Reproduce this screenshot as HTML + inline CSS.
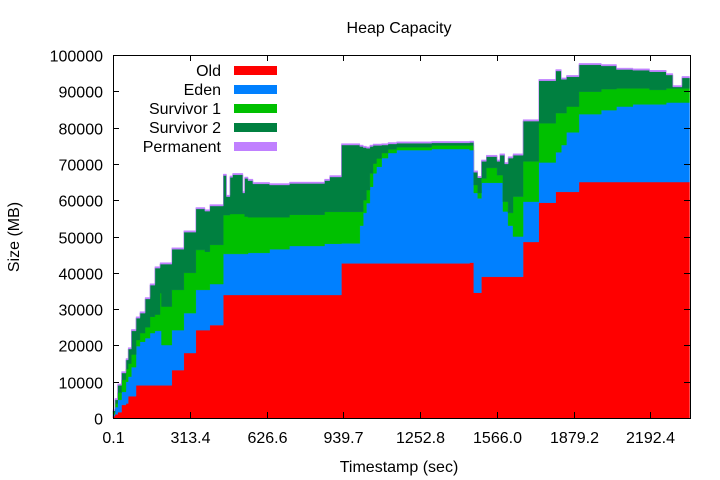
<!DOCTYPE html>
<html><head><meta charset="utf-8"><style>
body{margin:0;background:#fff;}
svg{display:block;font-family:"Liberation Sans",sans-serif;}
</style></head><body>
<svg id="chart" width="720" height="480" viewBox="0 0 720 480" xmlns="http://www.w3.org/2000/svg">
<rect width="720" height="480" fill="#fff"/>
<text x="399" y="33" font-size="16" text-anchor="middle">Heap Capacity</text>
<text x="399" y="472" font-size="16" text-anchor="middle">Timestamp (sec)</text>
<text x="19" y="237" font-size="16" text-anchor="middle" transform="rotate(-90 19 237)">Size (MB)</text>
<g id="areas"></g>
<g id="axes"></g>
<g id="legend"></g>
</svg>
<script>
const times=[0,8,19,35,53,62,75,94,110,131,151,171,192,198,240,289,338,375,395,450,463,477,488,530,537,551,571,639,720,863,884,932,1007,1021,1034,1048,1061,1075,1096,1122,1157,1300,1455,1472,1488,1503,1523,1567,1578,1591,1598,1612,1632,1673,1737,1806,1829,1850,1901,1992,2054,2121,2189,2257,2284,2321];
const tEnd=2352;
const oldV=[0.5,1,1.6,3.6,4,6,6,9,9,9,9,9,9,9,13.2,17.9,24.2,24.2,25.6,33.9,33.9,33.9,33.9,33.9,33.9,33.9,33.9,33.9,33.9,33.9,33.9,42.6,42.6,42.6,42.6,42.6,42.6,42.6,42.6,42.6,42.6,42.6,42.8,34.5,34.5,38.9,38.9,38.9,38.9,38.9,38.9,38.9,38.9,48.5,59.3,62.3,62.3,62.3,65,65,65,65,65,65,65,65];
const edenV=[0.5,2,3.4,3.6,6,5.4,8,10.8,12,13,14.4,15,15,11.1,11,11,11.1,11.1,11.3,11.3,11.3,11.3,11.3,11.3,11.3,11.6,11.6,12.6,13.5,14.1,14.1,5.5,10.4,13.9,16.6,21.1,24.8,26.6,29,30.4,31.2,31.5,31,27.5,26,25.9,25.9,25.9,25.9,18,18,14.1,11.1,11.1,11.1,10.9,12.9,16.4,18.7,19.8,20.8,21.4,21.4,21.9,21.9,21.9];
const s1V=[0.5,1,2,3.3,3.5,3.6,3.5,1.7,2.4,3,4.5,4.5,10.4,10.6,11.1,11.1,11,10.5,10.8,10.7,10.7,11,11,11,10.3,9.8,9.8,8.8,8.6,8.8,8.8,8.7,3.8,3.5,3.6,3.7,2.7,2.3,1.4,1,0.8,1,1.3,2.2,1.5,1.2,4.1,2.1,2.1,2.7,2.7,3.5,11,11.1,10.8,10.8,8.8,7.1,6.2,5.8,5,4.4,4,3.9,3.9,3.9];
const s2V=[0.5,1,2,1.9,2.5,4,6.5,6,5.5,7.8,8.7,12.8,8,11.7,11.2,11.2,11.3,11.2,10.7,10.9,5.1,10.1,10.8,5.8,10.5,10.1,9.2,8.9,8.6,8.6,9.6,18.4,18,14.5,11.5,7.4,5,3.6,2.2,1.5,1.1,0.7,0.8,3.5,4.2,4.7,3.1,3.8,5.5,12.8,10.4,15.1,11.4,11.1,11.7,11.6,9.3,8.2,7.4,6.4,5.2,5,5,3.7,0.4,2.9];
const permV=[0.4,0.4,0.4,0.4,0.4,0.4,0.4,0.4,0.4,0.4,0.4,0.4,0.4,0.4,0.4,0.4,0.4,0.4,0.4,0.4,0.4,0.4,0.4,0.4,0.4,0.4,0.4,0.4,0.4,0.4,0.4,0.4,0.4,0.4,0.4,0.4,0.4,0.4,0.4,0.4,0.4,0.4,0.4,0.4,0.4,0.4,0.4,0.4,0.4,0.4,0.4,0.4,0.4,0.4,0.4,0.4,0.4,0.4,0.4,0.4,0.4,0.4,0.4,0.4,0.4,0.4];
const seriesNames=["Old","Eden","Survivor 1","Survivor 2","Permanent"];
const xTickLabels=["0.1","313.4","626.6","939.7","1252.8","1566.0","1879.2","2192.4"];
const xTickValues=[0.1,313.4,626.6,939.7,1252.8,1566.0,1879.2,2192.4];
const yTickValues=[0,10000,20000,30000,40000,50000,60000,70000,80000,90000,100000];

const colors=["#ff0000","#0080ff","#00c000","#008040","#c080ff"];
const L=113,R=690,T=55,B=418;
const xs=t=>L+(t-0.1)/313.1*76.75;
const ys=v=>B-v/100000*(B-T);
const NS="http://www.w3.org/2000/svg";
const areas=document.getElementById('areas');
const series=[oldV,edenV,s1V,s2V,permV];
let lower=times.map(()=>0);
series.forEach((vals,si)=>{
  const upper=lower.map((l,i)=>l+vals[i]*1000);
  let top="",bot="";
  for(let i=0;i<times.length;i++){
    const x0=xs(times[i]),x1=xs(i+1<times.length?times[i+1]:tEnd);
    top+=(i===0?"M":"L")+x0.toFixed(2)+","+ys(upper[i]).toFixed(2)+"L"+x1.toFixed(2)+","+ys(upper[i]).toFixed(2);
  }
  for(let i=times.length-1;i>=0;i--){
    const x0=xs(times[i]),x1=xs(i+1<times.length?times[i+1]:tEnd);
    bot+="L"+x1.toFixed(2)+","+ys(lower[i]).toFixed(2)+"L"+x0.toFixed(2)+","+ys(lower[i]).toFixed(2);
  }
  const p=document.createElementNS(NS,'path');
  p.setAttribute('d',top+bot+"Z");
  p.setAttribute('fill',colors[si]);
  p.setAttribute('stroke',colors[si]);
  p.setAttribute('stroke-width','0.4');
  
  
  areas.appendChild(p);
  lower=upper;
});

const axes=document.getElementById('axes');
function line(x1,y1,x2,y2,name){
  const l=document.createElementNS(NS,'line');
  l.setAttribute('x1',x1);l.setAttribute('y1',y1);l.setAttribute('x2',x2);l.setAttribute('y2',y2);
  l.setAttribute('stroke','#000');l.setAttribute('stroke-width','1');
  
  
  axes.appendChild(l);
}
function text(x,y,s,anchor,name){
  const t=document.createElementNS(NS,'text');
  t.setAttribute('x',x);t.setAttribute('y',y);t.setAttribute('font-size','16');t.setAttribute('text-anchor',anchor);
  t.textContent=s;
  
  
  axes.appendChild(t);
}
yTickValues.forEach(v=>{
  const y=Math.round(ys(v))+0.5;
  line(L,y,L+6,y,'y-tick');
  line(R,y,R-6,y,'y-tick-mirror');
  text(103,y+6,String(v),'end','y-tick-label');
});
xTickValues.forEach((v,i)=>{
  const x=Math.round(xs(v))+0.5;
  line(x,B,x,B-6,'x-tick');
  line(x,T,x,T+6,'x-tick-mirror');
  text(x,443,xTickLabels[i],'middle','x-tick-label');
});
const frame=document.createElementNS(NS,'rect');
frame.setAttribute('x',L+0.5);frame.setAttribute('y',T+0.5);frame.setAttribute('width',R-L);frame.setAttribute('height',B-T);
frame.setAttribute('fill','none');frame.setAttribute('stroke','#000');


axes.appendChild(frame);

const legend=document.getElementById('legend');
seriesNames.forEach((n,i)=>{
  const y=70+i*19;
  const t=document.createElementNS(NS,'text');
  t.setAttribute('x',221);t.setAttribute('y',y+6);t.setAttribute('font-size','16');t.setAttribute('text-anchor','end');
  t.textContent=n;
  
  
  legend.appendChild(t);
  const r=document.createElementNS(NS,'rect');
  r.setAttribute('x',234);r.setAttribute('y',y-4);r.setAttribute('width',43);r.setAttribute('height',9);
  r.setAttribute('fill',colors[i]);
  
  
  legend.appendChild(r);
});
</script>
</body></html>
